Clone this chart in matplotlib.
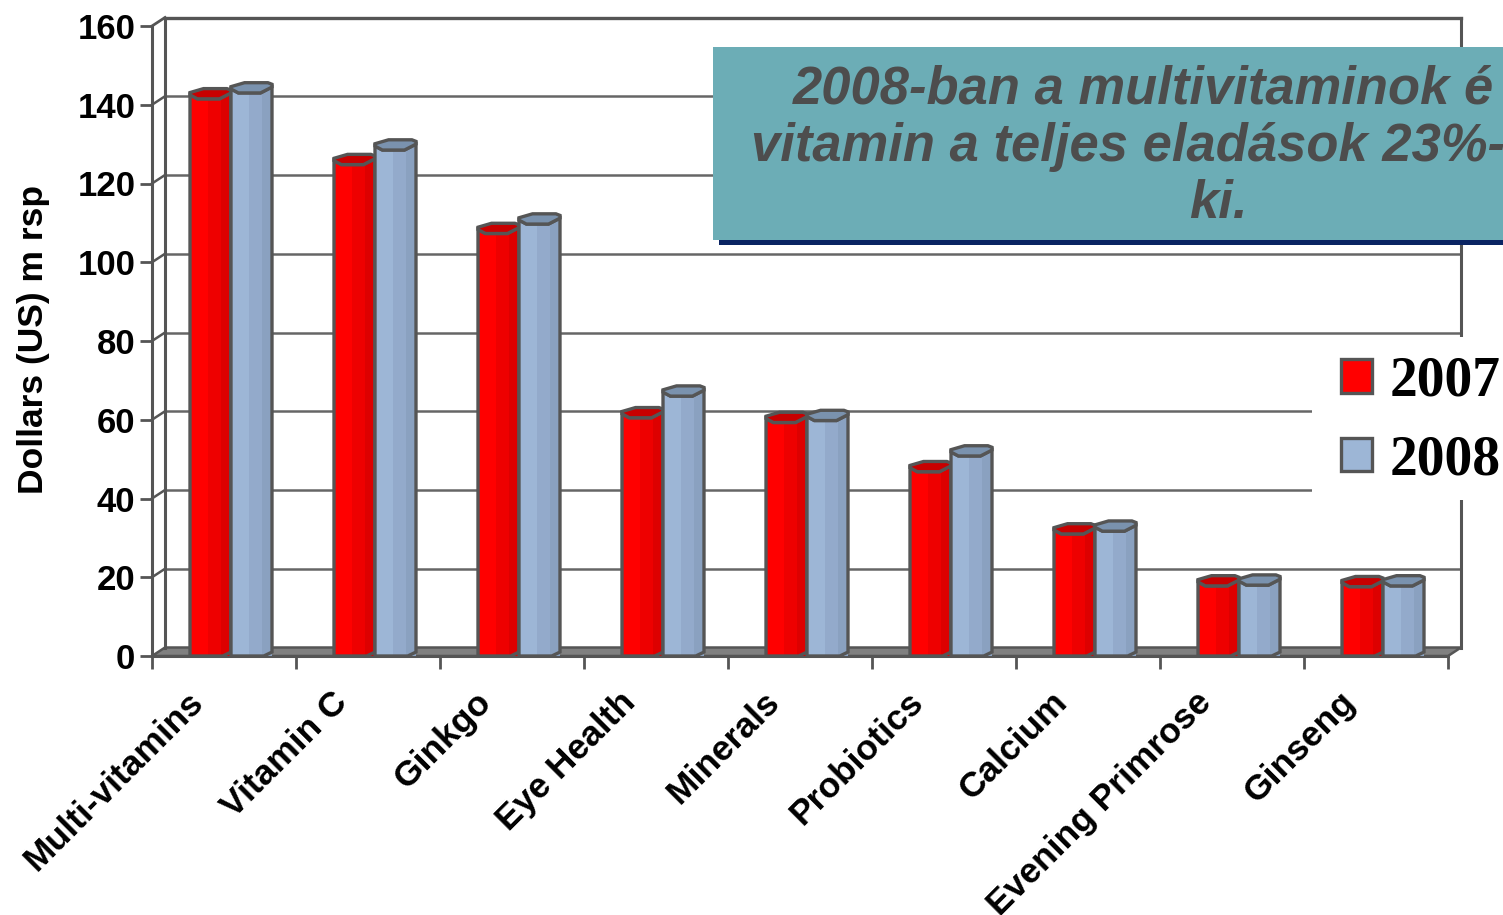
import matplotlib
matplotlib.use('Agg')
import matplotlib.pyplot as plt
from matplotlib.patches import Rectangle, Polygon, Patch

categories = ['Multi-vitamins', 'Vitamin C', 'Ginkgo', 'Eye Health', 'Minerals',
              'Probiotics', 'Calcium', 'Evening Primrose', 'Ginseng']
values_2007 = [141.5, 124.8, 107.3, 60.5, 59.3, 46.8, 31, 17.8, 17.6]
values_2008 = [143, 128.5, 109.7, 66, 59.8, 50.8, 31.7, 18, 17.8]
y_ticks = [0, 20, 40, 60, 80, 100, 120, 140, 160]

W, H = 1503, 915
DARK = '#555555'
RED = ['#ff0000', '#ee0000', '#dd0000', '#c80000']
BLUE = ['#9db6d6', '#93aacb', '#8aa1c0', '#7a92ae']

fig = plt.figure(figsize=(W / 100, H / 100), dpi=100)
ax = fig.add_axes([152 / W, (H - 656) / H, 1296 / W, 630 / H])
ax.set_xlim(0, 9)
ax.set_ylim(0, 160)

# one pixel in data units, for the fake 3d offsets
px = 9 / 1296
py = 160 / 630
dx = 13 * px
dy = 8.5 * py

# floor and back wall
ax.add_patch(Polygon([(0, 0), (dx, dy), (9 + dx, dy), (9, 0)], closed=True,
                     facecolor='#808080', edgecolor=DARK, lw=1.8, clip_on=False, zorder=1))
for t in y_ticks[1:-1]:
    ax.plot([dx, 9 + dx], [t + dy, t + dy], color='#666666', lw=1.8, clip_on=False, zorder=1)
    ax.plot([0, dx], [t, t + dy], color=DARK, lw=1.8, clip_on=False, zorder=1)
ax.plot([0, dx], [160, 160 + dy], color=DARK, lw=2, clip_on=False, zorder=1)
ax.plot([dx, 9 + dx], [160 + dy, 160 + dy], color=DARK, lw=2.4, clip_on=False, zorder=1)
ax.plot([dx, dx], [dy, 160 + dy], color=DARK, lw=2.2, clip_on=False, zorder=1)
ax.plot([9 + dx, 9 + dx], [dy, 160 + dy], color=DARK, lw=2.2, clip_on=False, zorder=1)


def cylinder(left, width, value, colors, z):
    # body is three flat strips, then an outline, then the top cap
    strip = [0.45, 0.3, 0.25]
    x = left
    for frac, c in zip(strip, colors[:3]):
        ax.bar(x, value + 1.5, frac * width, align='edge', color=c, lw=0, zorder=z)
        x += frac * width
    xs = [left, left, left + 0.18 * width, left + 0.72 * width, left + width,
          left + width, left + 0.8 * width, left]
    ys = [0, value + 1, value, value, value + 1.5, 1, 0, 0]
    ax.add_patch(Polygon(list(zip(xs, ys)), closed=True, facecolor='none',
                         edgecolor=DARK, lw=2.4, zorder=z + 0.2))
    cap = [(left, value + 1), (left + 0.18 * width, value), (left + 0.72 * width, value),
           (left + width, value + 1.5), (left + width, value + 2.2),
           (left + 0.9 * width, value + 2.6), (left + 0.33 * width, value + 2.6),
           (left, value + 1.6)]
    ax.add_patch(Polygon(cap, closed=True, facecolor=colors[3], edgecolor=DARK,
                         lw=2.4, zorder=z + 0.3))


bar_w = 41 * px
for i in range(len(categories)):
    left = i + 38 * px
    cylinder(left, bar_w, values_2007[i], RED, 3)
    cylinder(left + bar_w, bar_w, values_2008[i], BLUE, 3.5)

for s in ['top', 'right']:
    ax.spines[s].set_visible(False)
for s in ['left', 'bottom']:
    ax.spines[s].set_color(DARK)
    ax.spines[s].set_linewidth(2.2)
    ax.spines[s].set_zorder(2)
ax.patch.set_visible(False)

ax.set_yticks(y_ticks)
ax.set_xticks(range(10))
ax.set_xticklabels([])
ax.set_xticks([i + 0.24 for i in range(9)], minor=True)
ax.set_xticklabels(categories, minor=True, rotation=45, ha='right', va='top',
                   rotation_mode='anchor', fontsize=25.5, fontweight='bold',
                   family='Liberation Sans')
ax.tick_params(axis='x', which='minor', length=0, pad=21)
ax.tick_params(axis='x', which='major', length=9, width=2, color=DARK)
ax.tick_params(axis='y', length=9, width=2, color=DARK, pad=3)
for lab in ax.get_yticklabels():
    lab.set_fontsize(25)
    lab.set_fontweight('bold')
    lab.set_family('Liberation Sans')
ax.set_ylabel('Dollars (US) m rsp', fontsize=25.5, fontweight='bold',
              family='Liberation Sans', y=(656 - 340) / 630, labelpad=19.5)


def fx(v):
    return v / W


def fy(v):
    return 1 - v / H


# white patch behind the legend breaks the grid
fig.add_artist(Rectangle((fx(1312), fy(500)), (W - 1312) / W, 163 / H, transform=fig.transFigure,
                         facecolor='white', edgecolor='none', zorder=1))

# teal callout with navy shadow
fig.add_artist(Rectangle((fx(719), fy(245)), (W - 719) / W, 60 / H, transform=fig.transFigure,
                         facecolor='#0a2463', edgecolor='none', zorder=2))
fig.add_artist(Rectangle((fx(713), fy(240)), (W - 713) / W, 193 / H, transform=fig.transFigure,
                         facecolor='#6cadb6', edgecolor='none', zorder=2.5))
box_font = dict(fontsize=37.8, fontweight='bold', fontstyle='italic', family='Liberation Sans',
                color='#4d4d4d', va='center', zorder=3)
fig.text(fx(793), fy(89), '2008-ban a multivitaminok é', ha='left', **box_font)
fig.text(fx(751), fy(147), 'vitamin a teljes eladások 23%-', ha='left', **box_font)
fig.text(fx(1218), fy(204), 'ki.', ha='center', **box_font)

handles = [Patch(facecolor=RED[0], edgecolor=DARK, lw=2.4, label='2007'),
           Patch(facecolor=BLUE[0], edgecolor=DARK, lw=2.4, label='2008')]
leg = fig.legend(handles=handles, loc='center left', bbox_to_anchor=(fx(1341), fy(421)),
                 frameon=False, handlelength=0.56, handleheight=0.56, handletextpad=0.32,
                 labelspacing=0.47, borderpad=0, borderaxespad=0,
                 prop={'family': 'Liberation Serif', 'weight': 'bold', 'size': 40})
leg.set_zorder(4)

fig.savefig('out.png', dpi=100)
